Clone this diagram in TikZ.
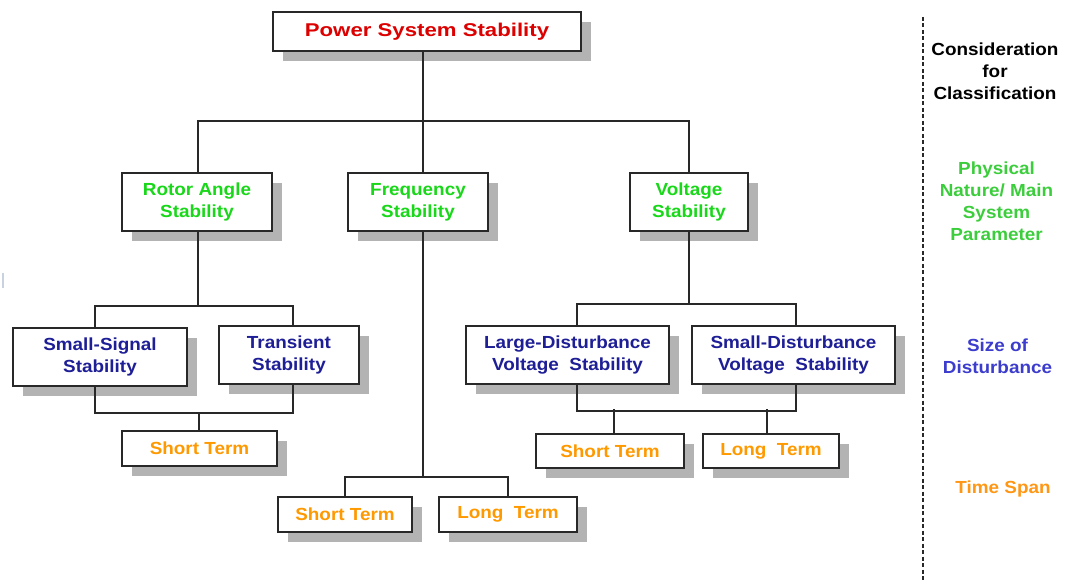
\documentclass[tikz,border=0pt]{standalone}
\usepackage{fontspec}
\newfontfamily\lsans[FakeStretch=1.08]{Liberation Sans}
\newfontfamily\tsans[FakeStretch=1.2]{Liberation Sans}
\usetikzlibrary{shadows}
\definecolor{shgray}{RGB}{179,179,179}
\definecolor{linegray}{RGB}{40,40,40}
\definecolor{tred}{RGB}{220,0,0}
\definecolor{tgreen}{RGB}{25,215,25}
\definecolor{tblue}{RGB}{30,30,150}
\definecolor{torange}{RGB}{255,153,0}
\definecolor{lgreen}{RGB}{60,205,60}
\definecolor{lblue}{RGB}{60,60,205}
\definecolor{lorange}{RGB}{255,150,20}
\tikzset{
  box/.style={draw=linegray, line width=2pt, fill=white, align=center, inner sep=0pt,
    font=\lsans\bfseries\fontsize{17.5}{22}\selectfont,
    drop shadow={shadow xshift=10pt, shadow yshift=-10pt, fill=shgray, opacity=1, draw=none}},
  conn/.style={draw=linegray, line width=2pt},
  side/.style={align=center, inner sep=0pt, font=\lsans\bfseries\fontsize{17.5}{22}\selectfont}
}
\begin{document}
\begin{tikzpicture}[x=1pt,y=-1pt]
\useasboundingbox (0,0) rectangle (1074,580);
% boxes
\node[box, minimum width=308, minimum height=39, text=tred, font=\tsans\bfseries\fontsize{18.5}{22}\selectfont] (title) at (427,31.5) {Power System Stability};
\node[box, minimum width=150, minimum height=58, text=tgreen] (rotor) at (197,202) {Rotor Angle\\Stability};
\node[box, minimum width=140, minimum height=58, text=tgreen] (freq) at (418,202) {Frequency\\Stability};
\node[box, minimum width=118, minimum height=58, text=tgreen] (volt) at (689,202) {Voltage\\Stability};
\node[box, minimum width=174, minimum height=58, text=tblue] (ss) at (100,357) {Small-Signal\\Stability};
\node[box, minimum width=140, minimum height=58, text=tblue] (tr) at (289,355) {Transient\\Stability};
\node[box, minimum width=203, minimum height=58, text=tblue] (large) at (567.5,355) {Large-Disturbance\\Voltage\ \ Stability};
\node[box, minimum width=203, minimum height=58, text=tblue] (sd) at (793.5,355) {Small-Disturbance\\Voltage\ \ Stability};
\node[box, minimum width=155, minimum height=35, text=torange] (st1) at (199.5,448.5) {Short Term};
\node[box, minimum width=148, minimum height=34, text=torange] (st2) at (610,451) {Short Term};
\node[box, minimum width=136, minimum height=34, text=torange] (lt2) at (771,451) {Long\ \ Term};
\node[box, minimum width=134, minimum height=35, text=torange] (st3) at (345,514.5) {Short Term};
\node[box, minimum width=138, minimum height=35, text=torange] (lt3) at (508,514.5) {Long\ \ Term};
% junctions
\coordinate (j1) at (423,121);
\coordinate (j2) at (198,306);
\coordinate (j3) at (199,413);
\coordinate (j4) at (423,477);
\coordinate (j5) at (689,304);
% connectors
\draw[conn] (title.south -| j1) -- (j1);
\draw[conn] (rotor.north -| j2) |- (j1) -| (volt.north);
\draw[conn] (freq.north -| j1) -- (j1);
\draw[conn] (rotor.south -| j2) -- (j2);
\draw[conn] ([xshift=-5pt]ss.north) |- (j2) -| ([xshift=4pt]tr.north);
\draw[conn] ([xshift=-5pt]ss.south) |- (j3) -| ([xshift=4pt]tr.south);
\draw[conn] (j3) -- (st1.north -| j3);
\draw[conn] (freq.south -| j4) -- (j4);
\draw[conn] (st3.north) |- (j4) -| (lt3.north);
\draw[conn] (volt.south) -- (j5);
\draw[conn] ([xshift=9pt]large.north) |- (j5) -| ([xshift=2.5pt]sd.north);
\draw[conn] ([xshift=9pt]large.south) -- ++(0,26) -| ([xshift=2.5pt]sd.south);
\draw[conn] ([xshift=4pt]st2.north) -- ++(0,-24);
\draw[conn] ([xshift=-4pt]lt2.north) -- ++(0,-24);
% side column
\coordinate (dtop) at (922.7,17);
\coordinate (dbot) at (922.7,580);
\draw[linegray, line width=1.6pt, dash pattern=on 4pt off 2.5pt] (dtop) -- (dbot);
\node[side, text=black] (c1) at (995,71) {Consideration\\for\\Classification};
\node[side, text=lgreen] (c2) at (996.5,201.5) {Physical\\Nature/ Main\\System\\Parameter};
\node[side, text=lblue] (c3) at (997.5,356) {Size of\\Disturbance};
\node[side, text=lorange] (c4) at (1003,489) {Time Span};
% faint mark at left edge
\draw[color={rgb,255:red,200;green,210;blue,225}, line width=1.5pt] (3,273) -- (3,288);
\end{tikzpicture}
\end{document}
